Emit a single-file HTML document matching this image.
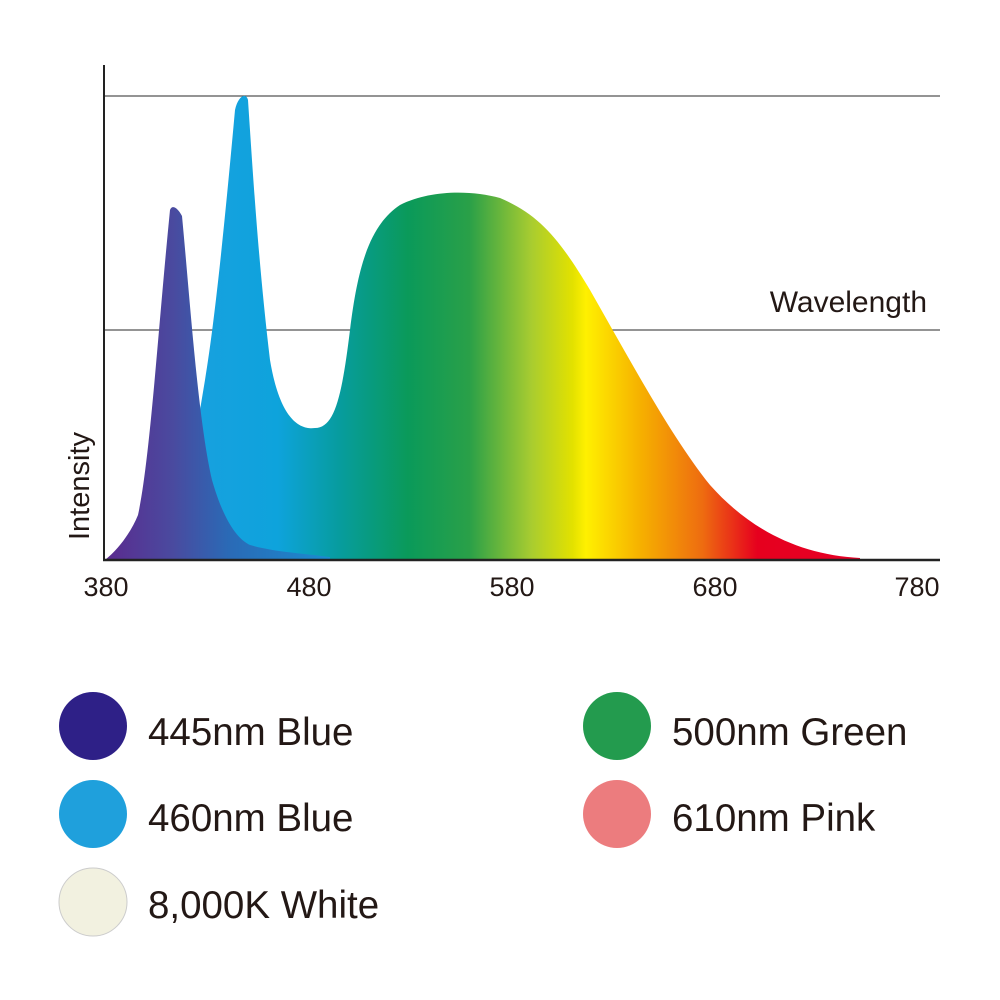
<!DOCTYPE html>
<html><head><meta charset="utf-8"><style>
body{margin:0;background:#fff;}
svg{display:block;font-family:"Liberation Sans",sans-serif;}
</style></head><body>
<svg width="1000" height="1000" viewBox="0 0 1000 1000" xmlns="http://www.w3.org/2000/svg">
<defs>
<linearGradient id="spec" gradientUnits="userSpaceOnUse" x1="175" y1="0" x2="860" y2="0">
<stop offset="0" stop-color="#1aa0e0"/>
<stop offset="0.15" stop-color="#0ea3dc"/>
<stop offset="0.24" stop-color="#079c9e"/>
<stop offset="0.34" stop-color="#0a9a5a"/>
<stop offset="0.43" stop-color="#2aa048"/>
<stop offset="0.52" stop-color="#a8cc30"/>
<stop offset="0.58" stop-color="#e2e100"/>
<stop offset="0.6" stop-color="#fff000"/>
<stop offset="0.68" stop-color="#f6b000"/>
<stop offset="0.77" stop-color="#ee6c10"/>
<stop offset="0.85" stop-color="#e6001e"/>
<stop offset="1" stop-color="#e60026"/>
</linearGradient>
<linearGradient id="vio" gradientUnits="userSpaceOnUse" x1="105" y1="0" x2="330" y2="0">
<stop offset="0" stop-color="#5b2a8e"/>
<stop offset="0.3" stop-color="#4a4a9f"/>
<stop offset="0.55" stop-color="#2a6ab6"/>
<stop offset="1" stop-color="#1a8cd0"/>
</linearGradient>
</defs>
<line x1="104" y1="96" x2="940" y2="96" stroke="#555" stroke-width="1.2"/>
<line x1="104" y1="330" x2="940" y2="330" stroke="#555" stroke-width="1.2"/>
<path d="M175,560 C185,500 195,440 205,380 C215,320 225,220 235,110 C238,96 246,92 248,100 C252,160 258,260 270,360 C280,420 300,430 315,428 C335,428 342,395 350,330 C358,265 370,225 400,205 C430,190 470,190 500,198 C540,215 560,240 590,290 C630,360 670,435 710,485 C750,530 800,555 860,558 L860,560 Z" fill="url(#spec)"/>
<path d="M105,560 C120,548 132,530 138,515 C150,460 158,330 170,210 C172,204 178,208 182,216 C190,300 198,420 212,480 C222,515 235,538 250,545 C275,552 300,553 330,557 L330,560 Z" fill="url(#vio)"/>
<line x1="104" y1="65" x2="104" y2="561" stroke="#222" stroke-width="2"/>
<line x1="103" y1="560" x2="940" y2="560" stroke="#222" stroke-width="2.5"/>
<text x="927" y="312" font-size="30" fill="#231815" text-anchor="end">Wavelength</text>
<text transform="translate(89,540) rotate(-90)" font-size="29" fill="#231815">Intensity</text>
<g font-size="27" fill="#231815" text-anchor="middle">
<text x="106" y="596">380</text><text x="309" y="596">480</text><text x="512" y="596">580</text><text x="715" y="596">680</text><text x="917" y="596">780</text>
</g>
<circle cx="93" cy="726" r="34" fill="#2e2087"/>
<circle cx="93" cy="814" r="34" fill="#1fa0dc"/>
<circle cx="93" cy="902" r="34" fill="#f2f1e0" stroke="#ccc" stroke-width="1"/>
<circle cx="617" cy="726" r="34" fill="#239b4e"/>
<circle cx="617" cy="814" r="34" fill="#ec7c7e"/>
<g font-size="38.5" fill="#231815">
<text x="148" y="745">445nm Blue</text>
<text x="148" y="831">460nm Blue</text>
<text x="148" y="918">8,000K White</text>
<text x="672" y="745">500nm Green</text>
<text x="672" y="831">610nm Pink</text>
</g>
</svg>
</body></html>
